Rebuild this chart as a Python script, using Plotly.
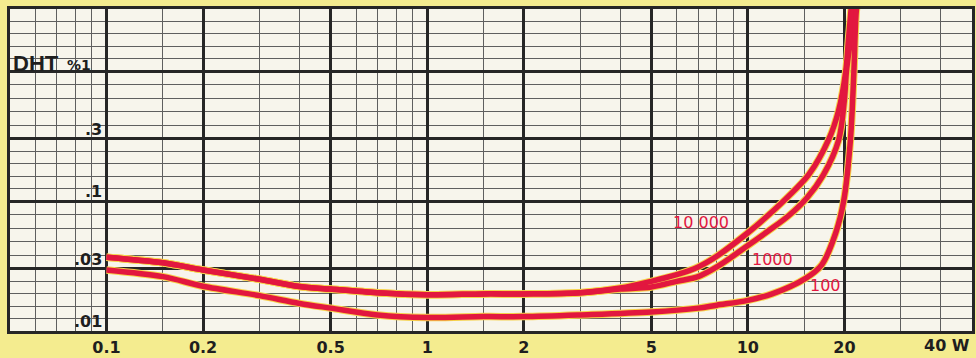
import math
import plotly.graph_objects as go

# ---- data (power in W, distortion DHT in %) ----
w_10000 = [0.1, 0.15, 0.2, 0.3, 0.4, 0.5, 0.7, 1, 1.5, 2, 3, 4, 5, 6, 7, 8, 10, 11.6, 13.4, 15.5, 17.9, 19.2, 20.2, 20.6, 21.1]
d_10000 = [0.037, 0.0335, 0.0295, 0.025, 0.022, 0.021, 0.0197, 0.019, 0.0193, 0.0193, 0.0197, 0.0214, 0.0241, 0.0271, 0.0311, 0.0376, 0.057, 0.078, 0.109, 0.16, 0.30, 0.50, 1.0, 1.76, 3.5]

w_1000 = [0.1, 0.15, 0.2, 0.3, 0.4, 0.5, 0.7, 1, 1.5, 2, 3, 4, 5, 6, 7, 8, 10, 11.6, 13.4, 15.25, 17.2, 19.2, 20.0, 20.3, 20.9, 21.4]
d_1000 = [0.037, 0.0335, 0.0295, 0.025, 0.022, 0.021, 0.0197, 0.019, 0.0193, 0.0193, 0.0197, 0.021, 0.0218, 0.0241, 0.0262, 0.0311, 0.0454, 0.059, 0.077, 0.105, 0.159, 0.295, 0.60, 1.0, 1.76, 3.5]

w_100 = [0.1, 0.15, 0.2, 0.3, 0.4, 0.5, 0.7, 1, 1.5, 2, 3, 5, 7, 8, 10, 11.9, 15.1, 17.0, 18.8, 19.9, 20.9, 21.4, 21.8, 22.1]
d_100 = [0.0295, 0.0262, 0.0221, 0.0187, 0.0163, 0.015, 0.0133, 0.0127, 0.0129, 0.0129, 0.0133, 0.014, 0.015, 0.0158, 0.0172, 0.0193, 0.0253, 0.0323, 0.057, 0.10, 0.30, 0.96, 2.95, 3.6]

series_names = ["10 000", "1000", "100"]

x_major = [0.1, 0.2, 0.5, 1, 2, 5, 10, 20]
x_major_text = ["0.1", "0.2", "0.5", "1", "2", "5", "10", "20"]
x_minor = [0.06, 0.07, 0.08, 0.09, 0.15, 0.3, 0.4, 0.6, 0.7, 0.8, 0.9, 1.5, 3, 4, 6, 7, 8, 9, 15, 30, 40]

y_major = [0.01, 0.03, 0.1, 0.3, 1, 3]
y_labels = [".01", ".03", ".1", ".3"]
y_label_vals = [0.01, 0.03, 0.1, 0.3]
y_minor = [0.01246, 0.01552, 0.01933, 0.02408,
           0.03817, 0.04856, 0.06178, 0.0786,
           0.1246, 0.1552, 0.1933, 0.2408,
           0.3817, 0.4856, 0.6178, 0.786,
           1.246, 1.552, 1.933, 2.408]

# curve label positions (W, %)
lab_x = [7.14, 11.9, 17.5]
lab_y = [0.0686, 0.0356, 0.0225]

RED = "#e2173f"
HALO = "#f6d24a"
INK = "#1e1e1e"
L = math.log10

fig = go.Figure()
for w, d in [(w_10000, d_10000), (w_1000, d_1000), (w_100, d_100)]:
    fig.add_trace(go.Scatter(x=w, y=d, mode="lines", line=dict(color=HALO, width=7.5, shape="spline", smoothing=0.9),
                             hoverinfo="skip", showlegend=False))
for w, d, n in [(w_10000, d_10000, series_names[0]), (w_1000, d_1000, series_names[1]), (w_100, d_100, series_names[2])]:
    fig.add_trace(go.Scatter(x=w, y=d, mode="lines", name=n, line=dict(color=RED, width=5.5, shape="spline", smoothing=0.9),
                             showlegend=False))

anns = []
for t, x, y in zip(series_names, lab_x, lab_y):
    anns.append(dict(x=L(x), y=L(y), xref="x", yref="y", text=t, showarrow=False,
                     font=dict(family="DejaVu Sans", size=16, color=RED), xanchor="center", yanchor="middle"))
for t, v in zip(y_labels, y_label_vals):
    anns.append(dict(x=L(0.0985), y=L(v), xref="x", yref="y", text=t, showarrow=False, xanchor="right", yanchor="bottom",
                     yshift=-2, font=dict(family="DejaVu Sans", size=16, color=INK, weight="bold")))
anns.append(dict(x=L(0.0905), y=0, xref="x", yref="y", text="%1", showarrow=False, xanchor="right", yanchor="bottom",
                 yshift=-4, font=dict(family="DejaVu Sans", size=14, color=INK, weight="bold")))
anns.append(dict(x=0.001, y=0, xref="paper", yref="y", text="DHT", showarrow=False, xanchor="left", yanchor="bottom",
                 yshift=-7, font=dict(family="Liberation Sans", size=22, color=INK, weight="bold")))
anns.append(dict(x=1.0, y=-0.01, xref="paper", yref="paper", text="40 W", showarrow=False, xanchor="right", yanchor="top",
                 font=dict(family="DejaVu Sans", size=16, color=INK, weight="bold")))

fig.update_layout(
    width=976, height=358,
    margin=dict(l=10, r=1, t=9, b=26),
    paper_bgcolor="#f4ec8f",
    plot_bgcolor="#f7f5ec",
    annotations=anns,
    xaxis=dict(type="log", range=[-1.301, 1.699], tickmode="array", tickvals=x_major, ticktext=x_major_text,
               showgrid=True, gridcolor="#262626", gridwidth=2.5,
               minor=dict(tickmode="array", tickvals=x_minor, showgrid=True, gridcolor="#5f5f5f", gridwidth=1),
               showline=True, mirror=True, linecolor="#262626", linewidth=3, ticks="", zeroline=False,
               tickfont=dict(family="DejaVu Sans", size=16, color=INK, weight="bold")),
    yaxis=dict(type="log", range=[-2, 0.4771], tickmode="array", tickvals=y_major, showticklabels=False,
               showgrid=True, gridcolor="#262626", gridwidth=2.5,
               minor=dict(tickmode="array", tickvals=y_minor, showgrid=True, gridcolor="#5f5f5f", gridwidth=1),
               showline=True, mirror=True, linecolor="#262626", linewidth=3, ticks="", zeroline=False),
)

fig.write_html("out.html", config={"displayModeBar": False},
               post_script="document.body.style.margin='0';")
